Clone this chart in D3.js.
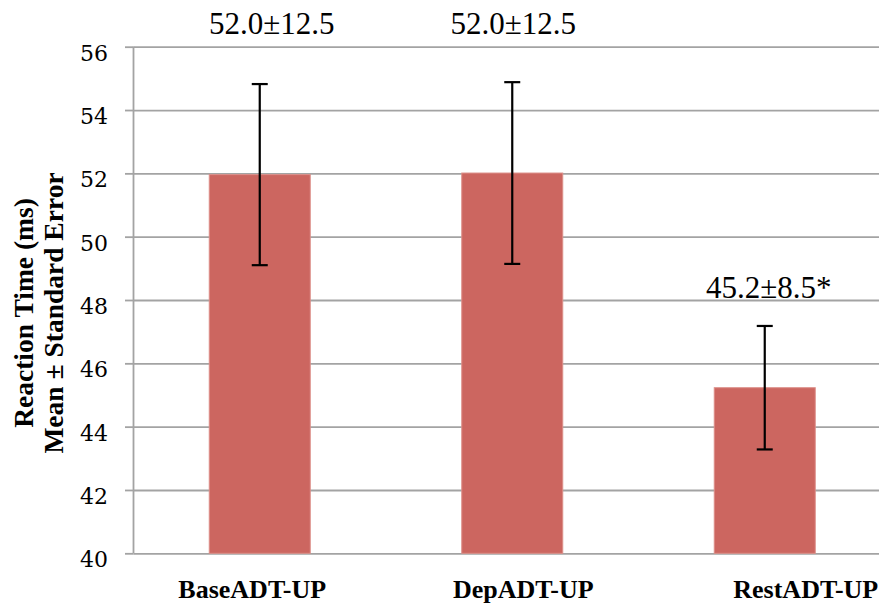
<!DOCTYPE html>
<html>
<head>
<meta charset="utf-8">
<script src="https://cdn.jsdelivr.net/npm/d3@7"></script>
<style>
  html, body { margin: 0; padding: 0; background: #ffffff; }
  svg { display: block; }
</style>
</head>
<body>
<svg id="chart" width="879" height="603"></svg>
<script>
// ---- data ----
const categories = ["BaseADT-UP", "DepADT-UP", "RestADT-UP"];
const means = [51.96, 52.01, 45.23];
const stdErrors = [2.86, 2.87, 1.95];
const valueLabels = ["52.0\u00b112.5", "52.0\u00b112.5", "45.2\u00b18.5*"];
const yTicks = [40, 42, 44, 46, 48, 50, 52, 54, 56];
const yTitleLines = ["Reaction Time (ms)", "Mean \u00b1 Standard Error"];

// ---- layout (not data) ----
const plot = { left: 133.5, right: 891, top: 46.7, bottom: 553.3 };
const valueLabelLayout = [ { dx: 12, y: 34 }, { dx: 1, y: 34 }, { dx: 4, y: 298 } ];
const catLabelDx = [-7.5, 11, 41];

const svg = d3.select("#chart");

const y = d3.scaleLinear().domain([40, 56]).range([plot.bottom, plot.top]);
const x = d3.scaleBand().domain(categories).range([plot.left, plot.right])
  .paddingInner(0.6).paddingOuter(0.3);

const gridColor = "#a3a3a3";

// gridlines
const grid = svg.append("g").attr("transform", `translate(${plot.left},0)`)
  .call(d3.axisLeft(y).tickValues(yTicks).tickSize(-(plot.right - plot.left)).tickFormat(""));
grid.select(".domain").remove();
grid.selectAll(".tick line").attr("stroke", gridColor).attr("stroke-width", 1.8);

// y axis (ticks + labels)
const yAxis = svg.append("g").attr("transform", `translate(${plot.left},0)`)
  .call(d3.axisLeft(y).tickValues(yTicks).tickSize(8.5).tickPadding(17).tickFormat(d3.format("d")));
yAxis.select(".domain").attr("stroke", gridColor).attr("stroke-width", 1.8)
  .attr("d", `M0,${plot.top}V${plot.bottom}`);
yAxis.selectAll(".tick line").attr("stroke", gridColor).attr("stroke-width", 1.8);
yAxis.selectAll(".tick text")
  .attr("font-family", "'DejaVu Serif', serif")
  .attr("font-size", 22)
  .attr("fill", "#000")
  .attr("dy", "0.62em");

// bars
const rows = categories.map((c, i) => ({ c, m: means[i], se: stdErrors[i], label: valueLabels[i], i }));

svg.append("g").selectAll("rect").data(rows).join("rect")
  .attr("x", d => x(d.c))
  .attr("y", d => y(d.m))
  .attr("width", x.bandwidth())
  .attr("height", d => y(40) - y(d.m))
  .attr("fill", "#cc6660")
  .attr("stroke", "#dd8f89")
  .attr("stroke-width", 1);

// error bars
const eb = svg.append("g").attr("stroke", "#000").attr("stroke-width", 2.2);
rows.forEach(d => {
  const cx = x(d.c) + x.bandwidth() / 2;
  eb.append("line").attr("x1", cx).attr("x2", cx).attr("y1", y(d.m + d.se)).attr("y2", y(d.m - d.se));
  eb.append("line").attr("x1", cx - 8).attr("x2", cx + 8).attr("y1", y(d.m + d.se)).attr("y2", y(d.m + d.se));
  eb.append("line").attr("x1", cx - 8).attr("x2", cx + 8).attr("y1", y(d.m - d.se)).attr("y2", y(d.m - d.se));
});

// value labels
svg.append("g").selectAll("text").data(rows).join("text")
  .attr("x", d => x(d.c) + x.bandwidth() / 2 + valueLabelLayout[d.i].dx)
  .attr("y", d => valueLabelLayout[d.i].y)
  .attr("text-anchor", "middle")
  .attr("font-family", "'Liberation Serif', 'Times New Roman', serif")
  .attr("font-size", 31)
  .attr("fill", "#000")
  .text(d => d.label);

// category labels
svg.append("g").selectAll("text").data(rows).join("text")
  .attr("x", d => x(d.c) + x.bandwidth() / 2 + catLabelDx[d.i])
  .attr("y", 598)
  .attr("text-anchor", "middle")
  .attr("font-family", "'Liberation Serif', 'Times New Roman', serif")
  .attr("font-weight", "bold")
  .attr("font-size", 26)
  .attr("fill", "#000")
  .text(d => d.c);

// y title
const yTitle = svg.append("text")
  .attr("transform", "translate(0,313) rotate(-90)")
  .attr("text-anchor", "middle")
  .attr("font-family", "'Liberation Serif', 'Times New Roman', serif")
  .attr("font-weight", "bold")
  .attr("font-size", 27.5)
  .attr("fill", "#000");
yTitleLines.forEach((t, i) => {
  yTitle.append("tspan").attr("x", 0).attr("y", i === 0 ? 33 : 63).text(t);
});
</script>
</body>
</html>
